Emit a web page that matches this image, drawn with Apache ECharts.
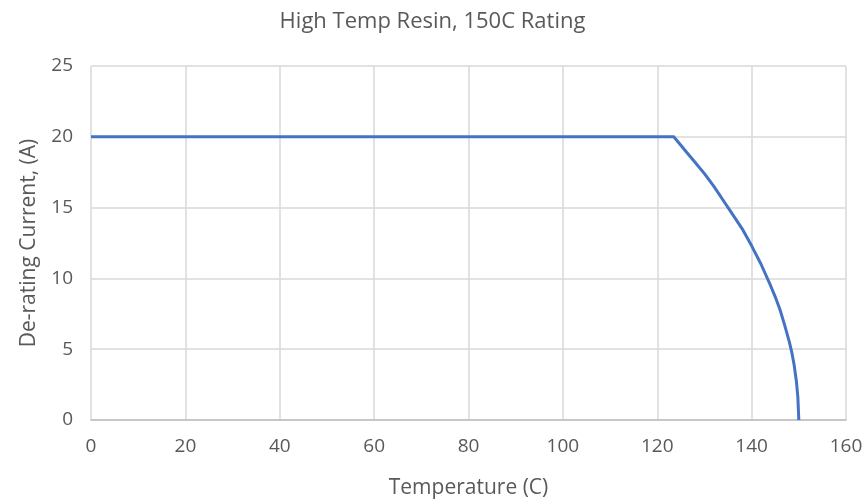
<!DOCTYPE html>
<html lang="en">
<head>
	<meta charset="UTF-8">
	<title>High Temp Resin, 150C Rating</title>
	<script src="https://cdn.jsdelivr.net/npm/echarts@6/dist/echarts.min.js"></script>
	<style>
		html, body { margin: 0; padding: 0; background: #fff; }
		#main { width: 865px; height: 502px; }
	</style>
</head>
<body>
	<div id="main"></div>
	<script>
		// values
		var temperature = [0, 123.5, 125, 126, 128, 130, 132, 134, 136, 138, 140, 142, 144, 145, 146, 147, 148, 148.5, 149, 149.5, 149.8, 150];
		var current     = [20, 20, 19.4, 19.0, 18.2, 17.4, 16.5, 15.5, 14.5, 13.5, 12.3, 11.0, 9.5, 8.7, 7.8, 6.7, 5.5, 4.8, 3.9, 2.7, 1.6, 0];
		var xTicks = [0, 20, 40, 60, 80, 100, 120, 140, 160];
		var yTicks = [0, 5, 10, 15, 20, 25];

		var points = temperature.map(function (t, i) { return [t, current[i]]; });
		var font = '"Open Sans", Lato, sans-serif';

		var option = {
			animation: false,
			title: {
				text: 'High Temp Resin, 150C Rating',
				left: 'center',
				top: 6,
				textStyle: { color: '#595959', fontSize: 22, fontWeight: 'normal', fontFamily: font }
			},
			grid: { left: 91, right: 19, top: 66, bottom: 82, outerBoundsMode: 'none' },
			xAxis: {
				type: 'value',
				min: xTicks[0],
				max: xTicks[xTicks.length - 1],
				interval: 20,
				name: 'Temperature (C)',
				nameLocation: 'middle',
				nameGap: 58,
				nameTextStyle: { color: '#595959', fontSize: 21, fontFamily: font },
				axisLine: { show: true, lineStyle: { color: '#bfbfbf', width: 1.5 } },
				axisTick: { show: false },
				axisLabel: { color: '#595959', fontSize: 19, margin: 17, fontFamily: font },
				splitLine: { show: true, lineStyle: { color: '#d9d9d9', width: 1.5 } }
			},
			yAxis: {
				type: 'value',
				min: yTicks[0],
				max: yTicks[yTicks.length - 1],
				interval: 5,
				name: 'De-rating Current, (A)',
				nameLocation: 'middle',
				nameGap: 51,
				nameTextStyle: { color: '#595959', fontSize: 21, fontFamily: font },
				axisLine: { show: false },
				axisTick: { show: false },
				axisLabel: { color: '#595959', fontSize: 19, margin: 18, fontFamily: font },
				splitLine: { show: true, lineStyle: { color: '#d9d9d9', width: 1.5 } }
			},
			series: [
				{
					type: 'line',
					data: points,
					showSymbol: false,
					smooth: false,
					lineStyle: { color: '#4472c4', width: 3 }
				}
			]
		};

		var myChart = echarts.init(document.getElementById('main'));
		myChart.setOption(option);
	</script>
</body>
</html>
